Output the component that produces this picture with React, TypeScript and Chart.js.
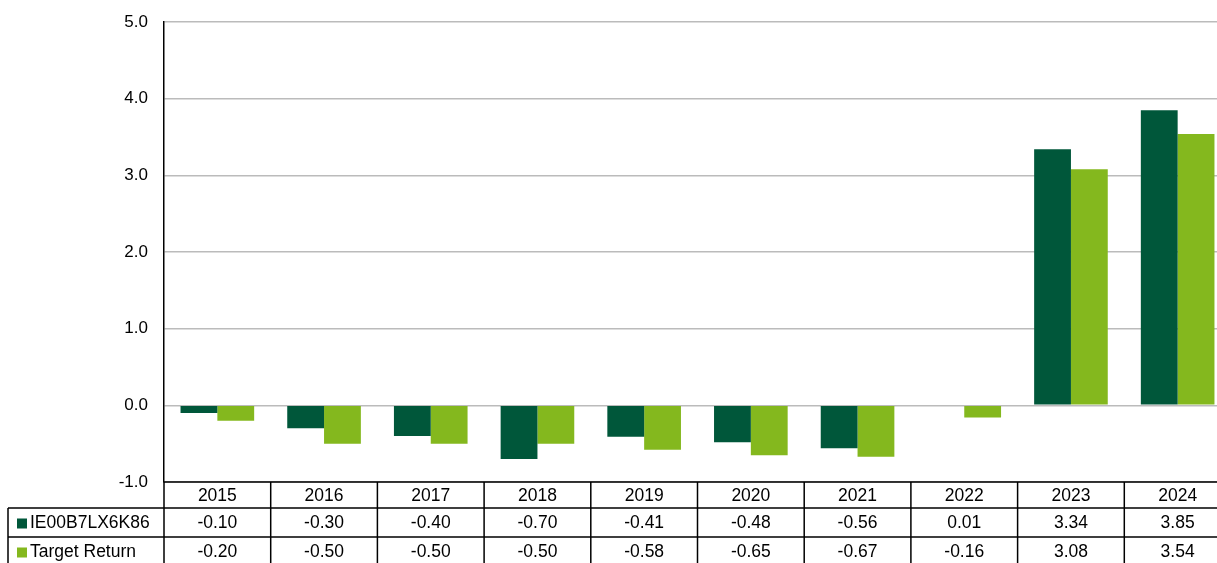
import React, { useEffect, useRef } from "react";
import { Chart, registerables } from "chart.js";

Chart.register(...registerables);

const categories = ["2015", "2016", "2017", "2018", "2019", "2020", "2021", "2022", "2023", "2024"];
const seriesNames = ["IE00B7LX6K86", "Target Return"];
const fundValues = [-0.1, -0.3, -0.4, -0.7, -0.41, -0.48, -0.56, 0.01, 3.34, 3.85];
const targetValues = [-0.2, -0.5, -0.5, -0.5, -0.58, -0.65, -0.67, -0.16, 3.08, 3.54];
const colors = ["#00573A", "#84B81E"];

const FONT = "Arial, 'Liberation Sans', sans-serif";
const CANVAS_W = 1231;

const tablePlugin = {
  id: "dataTable",
  afterDraw(chart: any) {
    const ctx = chart.ctx;
    const x = chart.scales.x;
    const area = chart.chartArea;
    const top = area.bottom;
    const rowH = [26, 29, 29];
    const y1 = top + rowH[0];
    const y2 = y1 + rowH[1];
    const y3 = y2 + rowH[2];
    const left = 8;
    const n = categories.length;
    const colW = (area.right - area.left) / n;
    ctx.save();
    ctx.strokeStyle = "#000";
    ctx.lineWidth = 1.5;
    ctx.beginPath();
    ctx.moveTo(area.left, top);
    ctx.lineTo(area.right, top);
    ctx.moveTo(left, y1);
    ctx.lineTo(area.right, y1);
    ctx.moveTo(left, y2);
    ctx.lineTo(area.right, y2);
    ctx.moveTo(left, y3);
    ctx.lineTo(area.right, y3);
    ctx.moveTo(left, y1);
    ctx.lineTo(left, y3);
    for (let i = 0; i <= n; i++) {
      const xx = area.left + i * colW;
      ctx.moveTo(xx, top);
      ctx.lineTo(xx, y3);
    }
    ctx.stroke();

    ctx.fillStyle = "#000";
    ctx.font = "17.5px " + FONT;
    ctx.textAlign = "center";
    ctx.textBaseline = "middle";
    const rows = [fundValues, targetValues];
    const ys = [y1 + rowH[1] / 2 + 1, y2 + rowH[2] / 2 + 1];
    categories.forEach((c, i) => {
      const cx = x.getPixelForValue(i);
      ctx.fillStyle = "#000";
      ctx.fillText(c, cx, top + rowH[0] / 2 + 1);
      ctx.fillText(rows[0][i].toFixed(2), cx, ys[0]);
      ctx.fillText(rows[1][i].toFixed(2), cx, ys[1]);
    });
    ctx.textAlign = "left";
    seriesNames.forEach((name, k) => {
      ctx.fillStyle = colors[k];
      ctx.fillRect(17, ys[k] - 5, 10, 10);
      ctx.fillStyle = "#000";
      ctx.fillText(name, 30, ys[k]);
    });
    ctx.restore();
  },
};

export default function App() {
  const ref = useRef<HTMLCanvasElement>(null);
  useEffect(() => {
    const chart = new Chart(ref.current!, {
      type: "bar",
      data: {
        labels: categories,
        datasets: [
          { label: seriesNames[0], data: fundValues, backgroundColor: colors[0], categoryPercentage: 0.69, barPercentage: 1.0 },
          { label: seriesNames[1], data: targetValues, backgroundColor: colors[1], categoryPercentage: 0.69, barPercentage: 1.0 },
        ],
      },
      options: {
        animation: false,
        responsive: false,
        maintainAspectRatio: false,
        layout: { padding: { top: 22, bottom: 81, left: 0, right: 0 } },
        plugins: { legend: { display: false }, tooltip: { enabled: false } },
        scales: {
          x: {
            display: false,
            grid: { display: false },
          },
          y: {
            min: -1,
            max: 5,
            afterFit: (s: any) => {
              s.width = 164;
              s.paddingTop = 0;
              s.paddingBottom = 0;
            },
            ticks: {
              stepSize: 1,
              color: "#000",
              font: { family: FONT, size: 17 },
              padding: 16,
              callback: (v: any) => Number(v).toFixed(1),
            },
            grid: { color: "#BBBBBB", lineWidth: 1.5, drawTicks: false },
            border: { color: "#000", width: 1.5 },
          },
        },
      },
      plugins: [tablePlugin],
    });
    return () => chart.destroy();
  }, []);
  return (
    <div style={{ position: "absolute", left: 0, top: 0, width: 1217, height: 563, overflow: "hidden", background: "#fff" }}>
      <canvas ref={ref} width={CANVAS_W} height={563} style={{ width: CANVAS_W, height: 563, display: "block" }} />
    </div>
  );
}
